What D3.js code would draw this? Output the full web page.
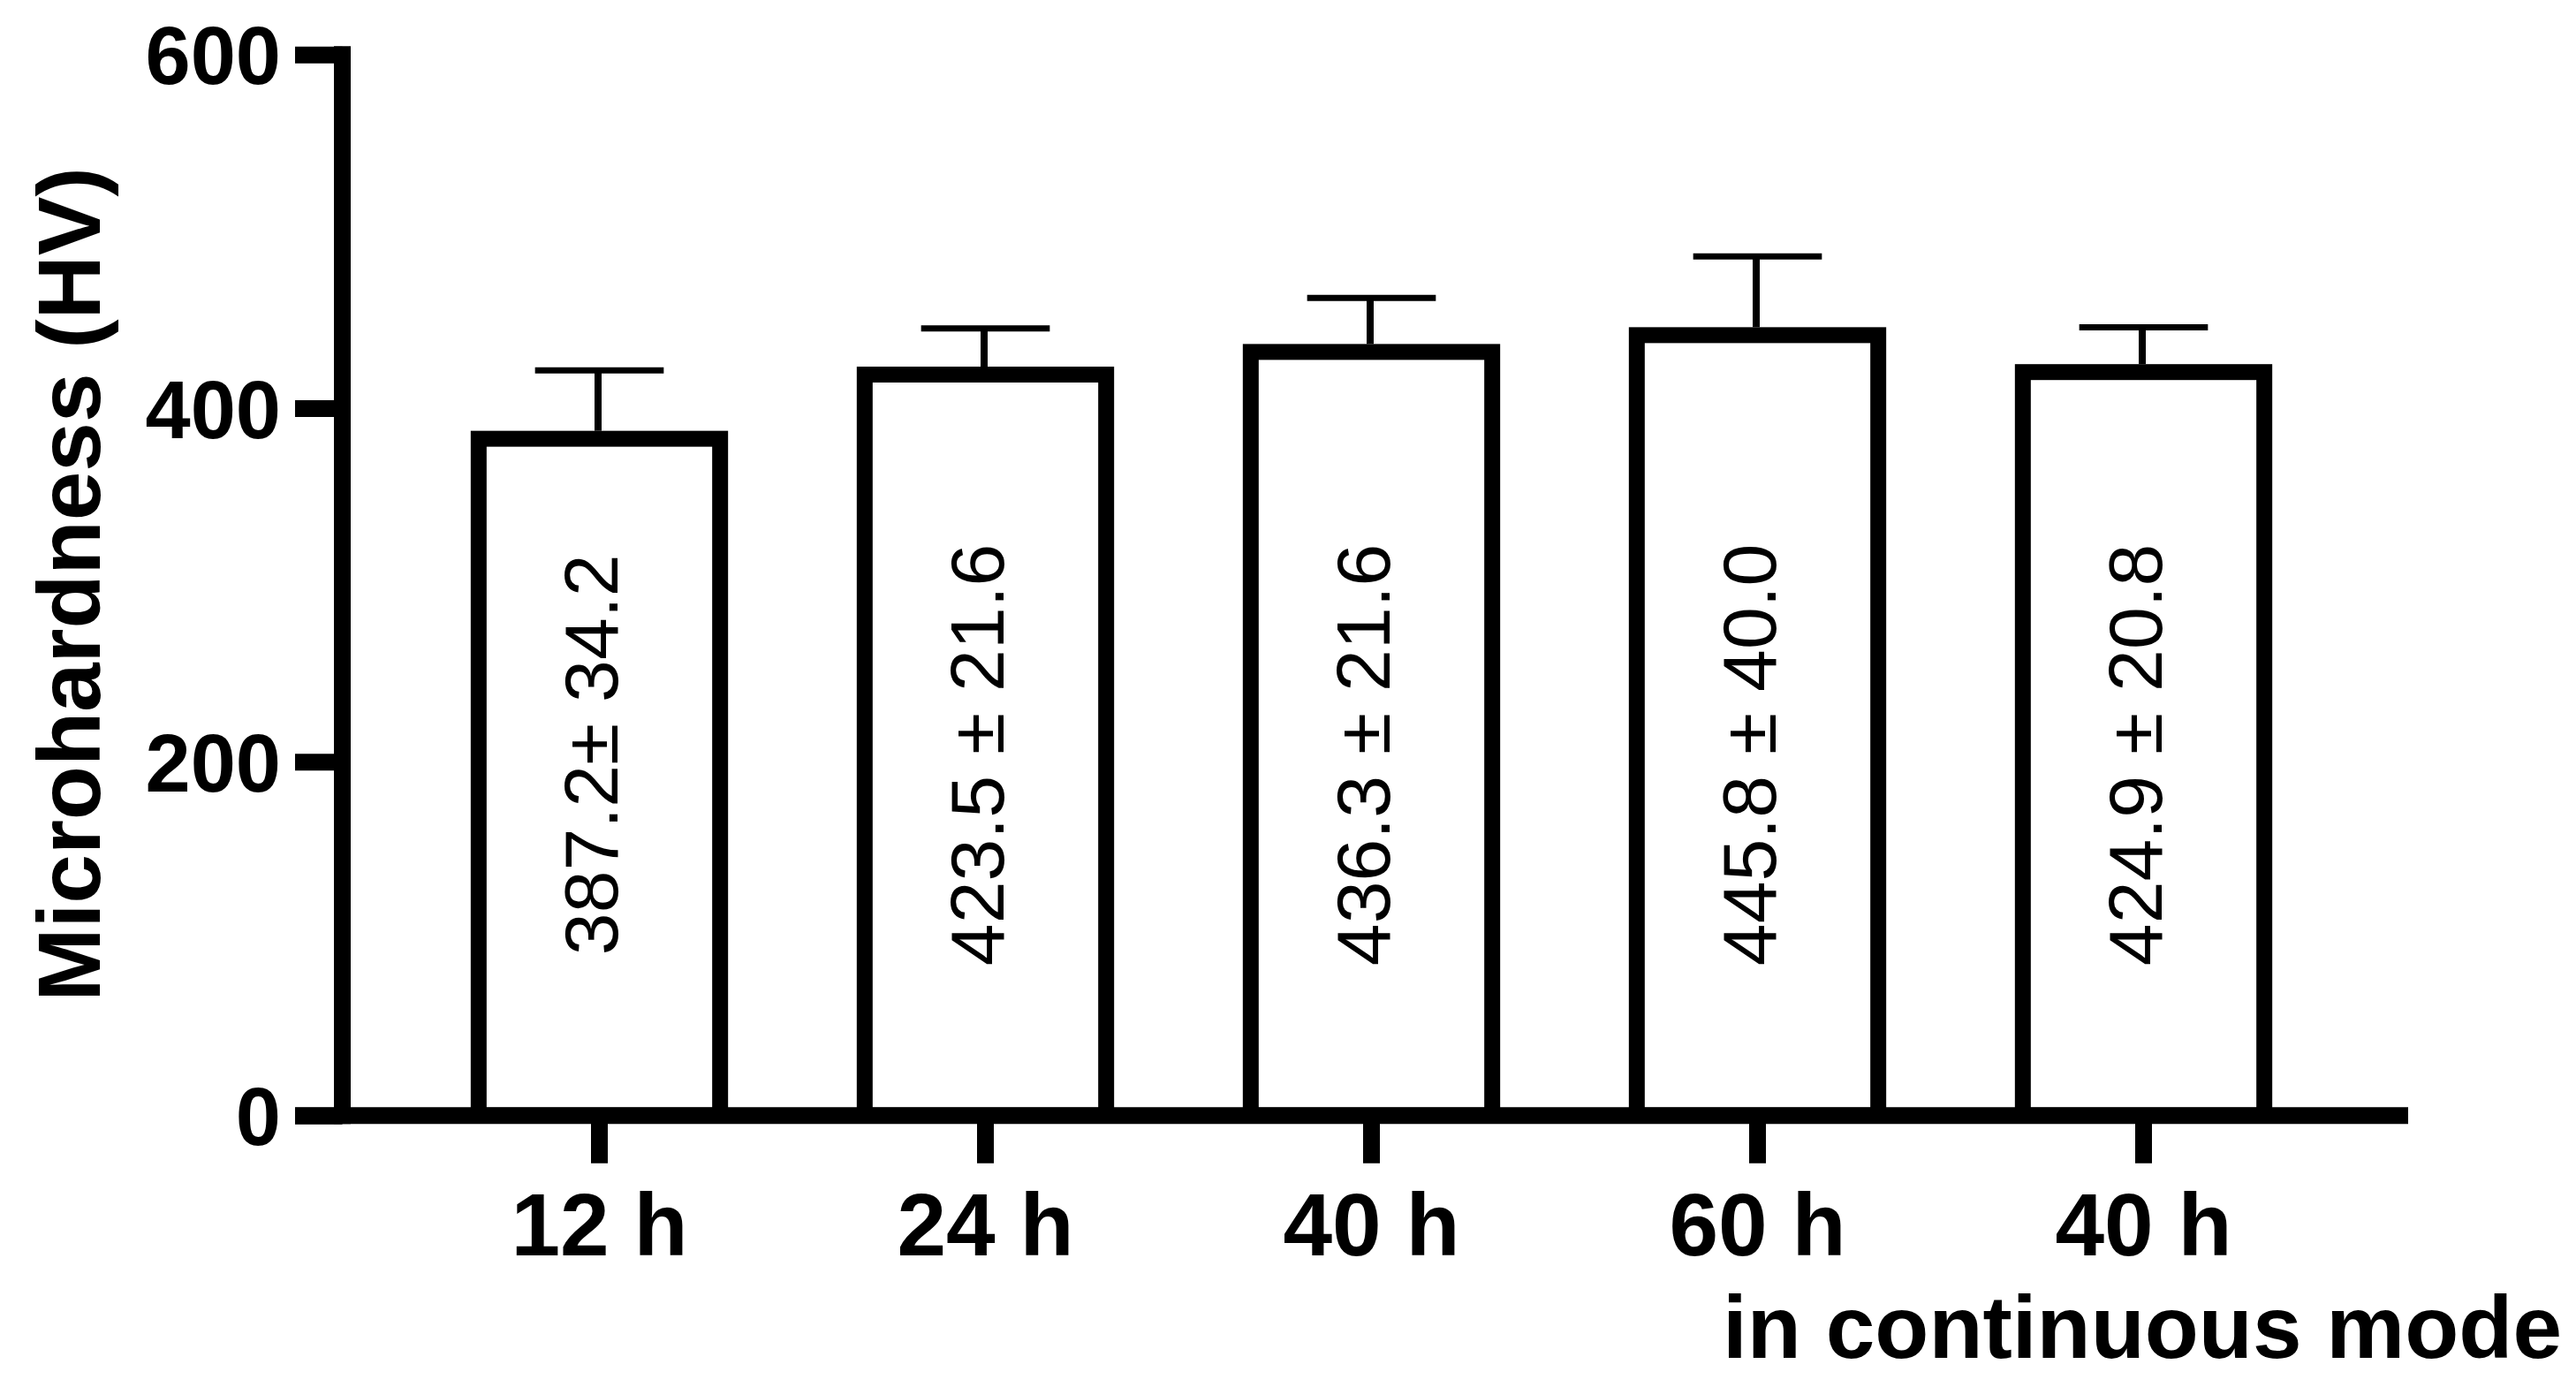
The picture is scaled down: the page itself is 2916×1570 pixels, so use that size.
<!DOCTYPE html>
<html>
<head>
<meta charset="utf-8">
<script src="https://cdn.jsdelivr.net/npm/d3@7"></script>
<style>
  body { margin: 0; background: #fff; }
  .chart text { font-family: "Liberation Sans", Arial, sans-serif; fill: #000; }
</style>
</head>
<body>
<svg class="chart"></svg>
<script>
// Data
var categories = ["12 h", "24 h", "40 h", "60 h", "40 h"];
var means = [387.2, 423.5, 436.3, 445.8, 424.9];
// upper error bars as drawn in the figure (third one is drawn taller than its label says)
var errs = [34.2, 21.6, 26.0, 40.0, 20.8];
var valueLabels = ["387.2\u00b1 34.2", "423.5 \u00b1 21.6", "436.3 \u00b1 21.6", "445.8 \u00b1 40.0", "424.9 \u00b1 20.8"];
var yTicks = [0, 200, 400, 600];

var width = 2916,
    height = 1570;

var svg = d3.select(".chart")
    .attr("width", width)
    .attr("height", height);

svg.append("rect")
    .attr("width", width)
    .attr("height", height)
    .attr("fill", "#fff");

// Scales
var x = d3.scaleBand()
    .domain(d3.range(categories.length))
    .range([460, 2645])
    .paddingInner(1 / 3)
    .paddingOuter(1 / 6);

var y = d3.scaleLinear()
    .domain([0, 600])
    .range([1262.7, 61.7]);

var axisX = 387.5; // centre of the y axis line
var lw = 18;       // heavy line width

// Bars (outline drawn inside the band, top edge at the value)
svg.selectAll(".bar")
    .data(means)
    .enter().append("rect")
    .attr("class", "bar")
    .attr("x", function (d, i) { return x(i) + lw / 2; })
    .attr("y", function (d) { return y(d) + lw / 2; })
    .attr("width", x.bandwidth() - lw)
    .attr("height", function (d) { return y(0) - y(d) - lw / 2; })
    .attr("fill", "#fff")
    .attr("stroke", "#000")
    .attr("stroke-width", lw);

// Error bars (upper only)
var err = svg.selectAll(".err")
    .data(means)
    .enter().append("g")
    .attr("class", "err");

err.append("line")
    .attr("x1", function (d, i) { return x(i) + x.bandwidth() / 2 - 1.5; })
    .attr("x2", function (d, i) { return x(i) + x.bandwidth() / 2 - 1.5; })
    .attr("y1", function (d) { return y(d); })
    .attr("y2", function (d, i) { return y(d + errs[i]); })
    .attr("stroke", "#000")
    .attr("stroke-width", 8);

err.append("line")
    .attr("x1", function (d, i) { return x(i) + x.bandwidth() / 4; })
    .attr("x2", function (d, i) { return x(i) + x.bandwidth() * 3 / 4; })
    .attr("y1", function (d, i) { return y(d + errs[i]); })
    .attr("y2", function (d, i) { return y(d + errs[i]); })
    .attr("stroke", "#000")
    .attr("stroke-width", 7);

// Value labels inside bars
svg.selectAll(".vlabel")
    .data(valueLabels)
    .enter().append("text")
    .attr("class", "vlabel")
    .attr("transform", function (d, i) {
        return "translate(" + (x(i) + x.bandwidth() / 2 + 20) + "," + y(204) + ") rotate(-90)";
    })
    .attr("text-anchor", "middle")
    .style("font-size", "86px")
    .text(function (d) { return d; });

// Y axis
var yAxis = d3.axisLeft(y)
    .tickValues(yTicks)
    .tickSize(axisX - 334)
    .tickPadding(16)
    .tickSizeOuter(0);

var gy = svg.append("g")
    .attr("transform", "translate(" + axisX + ",0)")
    .call(yAxis);
gy.select(".domain").remove();
gy.selectAll(".tick line").attr("stroke", "#000").attr("stroke-width", lw + 1);
gy.selectAll(".tick text")
    .style("font-size", "92px")
    .style("font-weight", "bold")
    .attr("dy", "0.36em");

gy.append("line")
    .attr("x1", 0).attr("x2", 0)
    .attr("y1", y(600)).attr("y2", y(0))
    .attr("stroke", "#000")
    .attr("stroke-width", lw + 1)
    .attr("stroke-linecap", "square");

// X axis
var xAxis = d3.axisBottom(x)
    .tickFormat(function (i) { return categories[i]; })
    .tickSize(54)
    .tickPadding(33)
    .tickSizeOuter(0);

var gx = svg.append("g")
    .attr("transform", "translate(0," + y(0) + ")")
    .call(xAxis);
gx.select(".domain").remove();
gx.selectAll(".tick line").attr("stroke", "#000").attr("stroke-width", lw + 1);
gx.selectAll(".tick text")
    .style("font-size", "100px")
    .style("font-weight", "bold");

gx.append("line")
    .attr("x1", 334).attr("x2", 2726)
    .attr("y1", 0).attr("y2", 0)
    .attr("stroke", "#000")
    .attr("stroke-width", lw + 1);

// Axis titles
svg.append("text")
    .attr("x", 2900)
    .attr("y", 1537)
    .attr("text-anchor", "end")
    .style("font-size", "100px")
    .style("font-weight", "bold")
    .text("in continuous mode");

svg.append("text")
    .attr("transform", "translate(113,661.5) rotate(-90)")
    .attr("text-anchor", "middle")
    .style("font-size", "100px")
    .style("font-weight", "bold")
    .text("Microhardness (HV)");
</script>
</body>
</html>
